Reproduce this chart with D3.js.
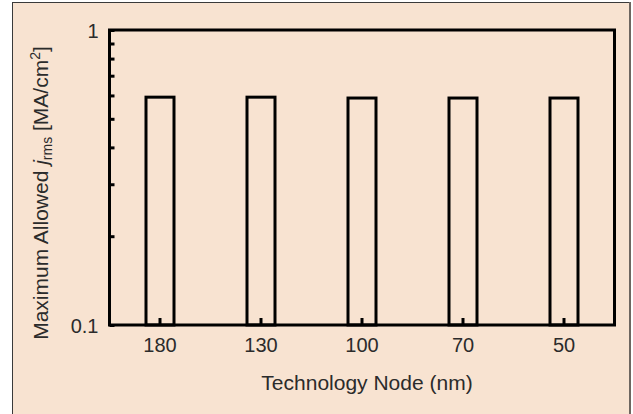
<!DOCTYPE html>
<html>
<head>
<meta charset="utf-8">
<script src="https://cdn.jsdelivr.net/npm/d3@7"></script>
<style>
  body { margin: 0; background: #fff; }
  text { font-family: "Liberation Sans", Arial, Helvetica, sans-serif; fill: #2b2b2b; }
</style>
</head>
<body>
<div id="chart"></div>
<script>
// Datos del gráfico
const nodes = ["180", "130", "100", "70", "50"];
const jrms = [0.592, 0.592, 0.588, 0.588, 0.588];
const yTicks = [1, 0.1];
const yMinor = [0.2, 0.3, 0.4, 0.5, 0.6, 0.7, 0.8, 0.9];

const W = 633, H = 414;
const margin = {top: 30, right: 18.5, bottom: 89, left: 109.5};

const svg = d3.select("#chart")
    .append("svg")
    .attr("width", W)
    .attr("height", H);

// Fondo con marco
svg.append("rect")
    .attr("x", 12.5).attr("y", 2.5)
    .attr("width", 617).attr("height", 420)
    .attr("fill", "#f8e3d1")
    .attr("stroke", "#3a3a3a")
    .attr("stroke-width", 1);
svg.append("line")
    .attr("x1", 630).attr("x2", 630).attr("y1", 2).attr("y2", 414)
    .attr("stroke", "#6e6660").attr("stroke-width", 2);

const x = d3.scaleBand()
    .domain(nodes)
    .range([margin.left, W - margin.right])
    .padding(0);

const y = d3.scaleLog()
    .domain([0.1, 1])
    .range([H - margin.bottom, margin.top]);

const barW = 28;

// Barras
svg.selectAll(".bar")
    .data(nodes)
    .enter()
    .append("rect")
    .attr("class", "bar")
    .attr("x", d => x(d) + x.bandwidth() / 2 - barW / 2)
    .attr("y", (d, i) => y(jrms[i]))
    .attr("width", barW)
    .attr("height", (d, i) => y(0.1) - y(jrms[i]))
    .attr("fill", "none")
    .attr("stroke", "#000")
    .attr("stroke-width", 3);

// Ejes (ticks hacia dentro)
const yAxis = d3.axisLeft(y)
    .tickValues(yTicks.concat(yMinor))
    .tickSize(-5)
    .tickFormat(d => yTicks.includes(d) ? d3.format("")(d) : "");

const gy = svg.append("g")
    .attr("transform", "translate(" + margin.left + ",0)")
    .call(yAxis);
gy.select(".domain").remove();
gy.selectAll(".tick line").attr("stroke", "#000").attr("stroke-width", 3);
gy.selectAll(".tick text")
    .attr("x", -11)
    .attr("dy", "0.36em")
    .style("font-size", "20px")
    .style("font-family", "Liberation Sans, Arial, sans-serif")
    .attr("fill", "#2b2b2b");

const xAxis = d3.axisBottom(x).tickSize(-7).tickPadding(13);
const gx = svg.append("g")
    .attr("transform", "translate(0," + (H - margin.bottom) + ")")
    .call(xAxis);
gx.select(".domain").remove();
gx.selectAll(".tick line").attr("stroke", "#000").attr("stroke-width", 3);
gx.selectAll(".tick text")
    .style("font-size", "20px")
    .style("font-family", "Liberation Sans, Arial, sans-serif")
    .attr("fill", "#2b2b2b");

// Marco del área de gráfico
svg.append("rect")
    .attr("x", margin.left)
    .attr("y", margin.top)
    .attr("width", W - margin.right - margin.left)
    .attr("height", H - margin.bottom - margin.top)
    .attr("fill", "none")
    .attr("stroke", "#000")
    .attr("stroke-width", 3);

// Títulos de ejes
svg.append("text")
    .attr("x", 367)
    .attr("y", 390)
    .attr("text-anchor", "middle")
    .style("font-size", "21px")
    .text("Technology Node (nm)");

const yl = svg.append("text")
    .attr("transform", "translate(48,193) rotate(-90)")
    .attr("text-anchor", "middle")
    .style("font-size", "21px");
yl.append("tspan").text("Maximum Allowed ");
yl.append("tspan").style("font-style", "italic").text("j");
yl.append("tspan").attr("dy", 4).style("font-size", "14px").text("rms");
yl.append("tspan").attr("dy", -4).text(" [MA/cm");
yl.append("tspan").attr("dy", -8).style("font-size", "14px").text("2");
yl.append("tspan").attr("dy", 8).text("]");
</script>
</body>
</html>
